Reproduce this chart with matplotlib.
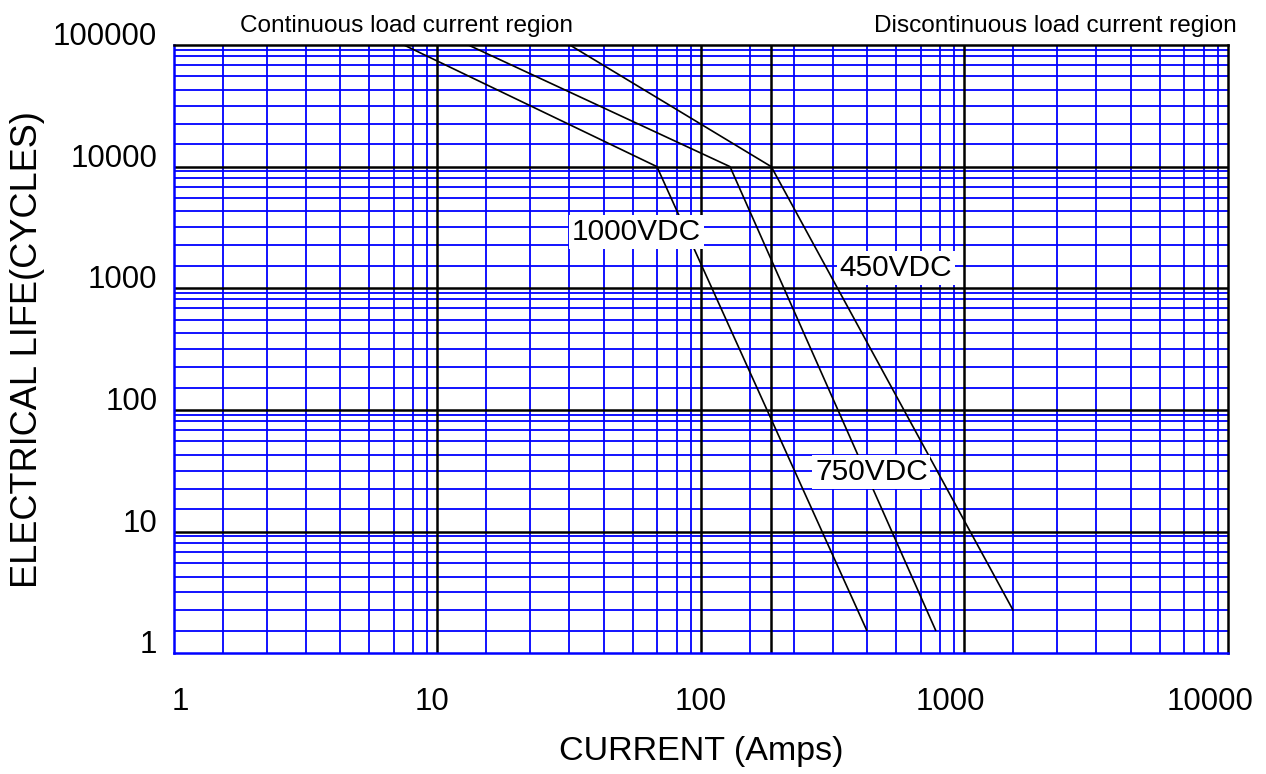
import matplotlib
matplotlib.use("Agg")
import matplotlib.pyplot as plt
from matplotlib.transforms import ScaledTranslation
import numpy as np

# curves: current (A) vs electrical life (cycles)
current_1000 = [7.46, 68.1, 426]
life_1000 = [100000, 10000, 1.55]
current_750 = [13.1, 129, 778]
life_750 = [100000, 10000, 1.55]
current_450 = [31.8, 185, 1530]
life_450 = [100000, 10000, 2.27]

x_ticks = [1, 10, 100, 1000, 10000]
x_labels = ["1", "10", "100", "1000", "10000"]
y_ticks = [1, 10, 100, 1000, 10000, 100000]
y_labels = ["1", "10", "100", "1000", "10000", "100000"]

# the printed grid is not a true log grid, these are its lines inside one decade
grid_steps = [1.53, 2.25, 3.17, 4.28, 5.51, 6.84, 8.11, 9.17]
region_split = 185


def plot():
    plt.rcParams['font.family'] = ['Liberation Sans', 'DejaVu Sans']
    fig = plt.figure(figsize=(12.66, 7.74), dpi=100)
    ax = fig.add_axes([0.1374, 0.1559, 0.8324, 0.786])
    ax.set_xscale('log')
    ax.set_yscale('log')
    ax.set_xlim(1, 10000)
    ax.set_ylim(1, 100000)

    x_minor = [d * s for d in [1, 10, 100, 1000] for s in grid_steps]
    y_minor = [d * s for d in [1, 10, 100, 1000, 10000] for s in grid_steps]
    for v in x_minor:
        ax.axvline(v, color='#0000ff', lw=1.3, zorder=1)
    for v in y_minor:
        ax.axhline(v, color='#0000ff', lw=1.3, zorder=1)
    for v in x_ticks[1:-1] + [region_split]:
        ax.axvline(v, color='black', lw=1.8, zorder=2)
    for v in y_ticks[1:-1]:
        ax.axhline(v, color='black', lw=1.8, zorder=2)

    ax.spines['left'].set_color('#0000ff')
    ax.spines['bottom'].set_color('#0000ff')
    ax.spines['top'].set_color('black')
    ax.spines['right'].set_color('black')
    for s in ax.spines.values():
        s.set_linewidth(1.8)
        s.set_zorder(3)

    ax.plot(current_1000, life_1000, color='black', lw=1.2, zorder=4)
    ax.plot(current_750, life_750, color='black', lw=1.2, zorder=4)
    ax.plot(current_450, life_450, color='black', lw=1.2, zorder=4)

    box = dict(facecolor='white', edgecolor='none', pad=2)
    ax.text(56.9, 2900, "1000VDC", fontsize=21.5, ha='center', va='center',
            bbox=box, zorder=5)
    ax.text(550, 1466, "450VDC", fontsize=21.5, ha='center', va='center',
            bbox=box, zorder=5)
    ax.text(444, 31, "750VDC", fontsize=21.5, ha='center', va='center',
            bbox=box, zorder=5)

    ax.xaxis.set_minor_locator(matplotlib.ticker.NullLocator())
    ax.yaxis.set_minor_locator(matplotlib.ticker.NullLocator())
    ax.set_xticks(x_ticks, x_labels)
    ax.set_yticks(y_ticks, y_labels)
    ax.tick_params(axis='both', length=0, labelsize=22.5)
    ax.tick_params(axis='x', pad=24)
    ax.tick_params(axis='y', pad=12)
    plt.setp(ax.get_yticklabels(), va='baseline')
    # the printed labels sit a little off their lines
    shifts = [6, -5, 0, -14, -18]
    for lbl, dx in zip(ax.get_xticklabels(), shifts):
        lbl.set_transform(lbl.get_transform()
                          + ScaledTranslation(dx / 100, 0, fig.dpi_scale_trans))

    ax.set_xlabel("CURRENT (Amps)", fontsize=24.5, labelpad=14)
    ax.set_ylabel("ELECTRICAL LIFE(CYCLES)", fontsize=26, labelpad=6)

    fig.text(240 / 1266, 1 - 32 / 774, "Continuous load current region",
             fontsize=17.6, va='baseline', ha='left')
    fig.text(1237 / 1266, 1 - 32 / 774, "Discontinuous load current region",
             fontsize=17.6, va='baseline', ha='right')

    fig.savefig("out.png", dpi=100)


def main():
    plot()


if __name__ == "__main__":
    main()
